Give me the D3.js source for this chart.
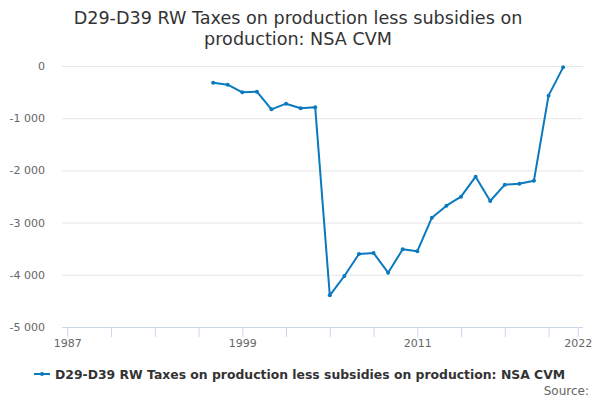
<!DOCTYPE html>
<html>
<head>
<meta charset="utf-8">
<script src="https://cdn.jsdelivr.net/npm/d3@7"></script>
<style>
  body { margin: 0; background: #fff; }
  svg { font-family: "DejaVu Sans", sans-serif; }
</style>
</head>
<body>
<div id="chart"></div>
<script>
const years = [1997, 1998, 1999, 2000, 2001, 2002, 2003, 2004, 2005, 2006, 2007, 2008, 2009,
  2010, 2011, 2012, 2013, 2014, 2015, 2016, 2017, 2018, 2019, 2020, 2021];
const values = [-320, -358, -505, -492, -830, -722, -810, -792, -4393, -4023, -3602, -3582, -3959,
  -3512, -3550, -2906, -2676, -2503, -2120, -2586, -2273, -2254, -2197, -568, -26];
const yTicks = [0, -1000, -2000, -3000, -4000, -5000];
const xTicks = [1987, 1990, 1993, 1996, 1999, 2002, 2005, 2008, 2011, 2014, 2017, 2020, 2022];
const xLabels = [1987, 1999, 2011, 2022];
const seriesName = "D29-D39 RW Taxes on production less subsidies on production: NSA CVM";
const titleLines = ["D29-D39 RW Taxes on production less subsidies on", "production: NSA CVM"];

const width = 600, height = 400;
const margin = {top: 66, right: 22, bottom: 73, left: 62};
const blue = "#0a7abf";

const svg = d3.select("#chart").append("svg")
  .attr("width", width)
  .attr("height", height);

const x = d3.scaleLinear()
  .domain([1987, 2022])
  .range([67.3, 577.7]);

const y = d3.scaleLinear()
  .domain([-5000, 0])
  .range([height - margin.bottom, margin.top]);

// gridlines
svg.append("g")
  .selectAll("line")
  .data(yTicks.filter(d => d != -5000))
  .enter().append("line")
  .attr("x1", margin.left).attr("x2", width - margin.right + 5)
  .attr("y1", d => y(d) + 0.5).attr("y2", d => y(d) + 0.5)
  .attr("stroke", "#e6e6e6");

// y labels
svg.append("g")
  .selectAll("text")
  .data(yTicks)
  .enter().append("text")
  .attr("x", 45)
  .attr("y", d => y(d) + 4)
  .attr("text-anchor", "end")
  .style("font-size", "11px")
  .attr("fill", "#666")
  .text(d => d3.format(",")(d).replace(",", " ").replace("−", "-"));

// x axis
const xAxis = svg.append("g")
  .attr("transform", `translate(0,${y(-5000)})`)
  .call(d3.axisBottom(x).tickValues(xTicks).tickSize(10).tickFormat(d => xLabels.includes(d) ? d : ""));
xAxis.select(".domain").attr("stroke", "#ccd6eb").attr("d", `M${margin.left},0.5H${width - margin.right + 5}`);
xAxis.selectAll(".tick line").attr("stroke", "#ccd6eb");
xAxis.selectAll(".tick text")
  .attr("fill", "#666")
  .attr("y", 12)
  .style("font-size", "11px")
  .style("font-family", "DejaVu Sans, sans-serif");

// line
const data = years.map((d, i) => ({year: d, value: values[i]}));
const line = d3.line().x(d => x(d.year)).y(d => y(d.value));

svg.append("path")
  .datum(data)
  .attr("fill", "none")
  .attr("stroke", blue)
  .attr("stroke-width", 2)
  .attr("stroke-linejoin", "round")
  .attr("d", line);

svg.append("g")
  .selectAll("circle")
  .data(data)
  .enter().append("circle")
  .attr("cx", d => x(d.year))
  .attr("cy", d => y(d.value))
  .attr("r", 2)
  .attr("fill", blue);

// title
svg.append("text")
  .attr("text-anchor", "middle")
  .attr("fill", "#333")
  .style("font-size", "17.6px")
  .selectAll("tspan")
  .data(titleLines)
  .enter().append("tspan")
  .attr("x", width / 2 - 2)
  .attr("y", (d, i) => 24 + i * 21)
  .text(d => d);

// legend
const lg = svg.append("g").attr("transform", "translate(0,374)");
lg.append("line")
  .attr("x1", 34).attr("x2", 50)
  .attr("stroke", blue).attr("stroke-width", 2);
lg.append("circle").attr("cx", 42).attr("r", 2).attr("fill", blue);
lg.append("text")
  .attr("x", 55).attr("y", 4.5)
  .attr("fill", "#333")
  .style("font-size", "12.4px")
  .style("font-weight", "bold")
  .text(seriesName);

svg.append("text")
  .attr("x", 589).attr("y", 395)
  .attr("text-anchor", "end")
  .attr("fill", "#666")
  .style("font-size", "12px")
  .text("Source:");
</script>
</body>
</html>
